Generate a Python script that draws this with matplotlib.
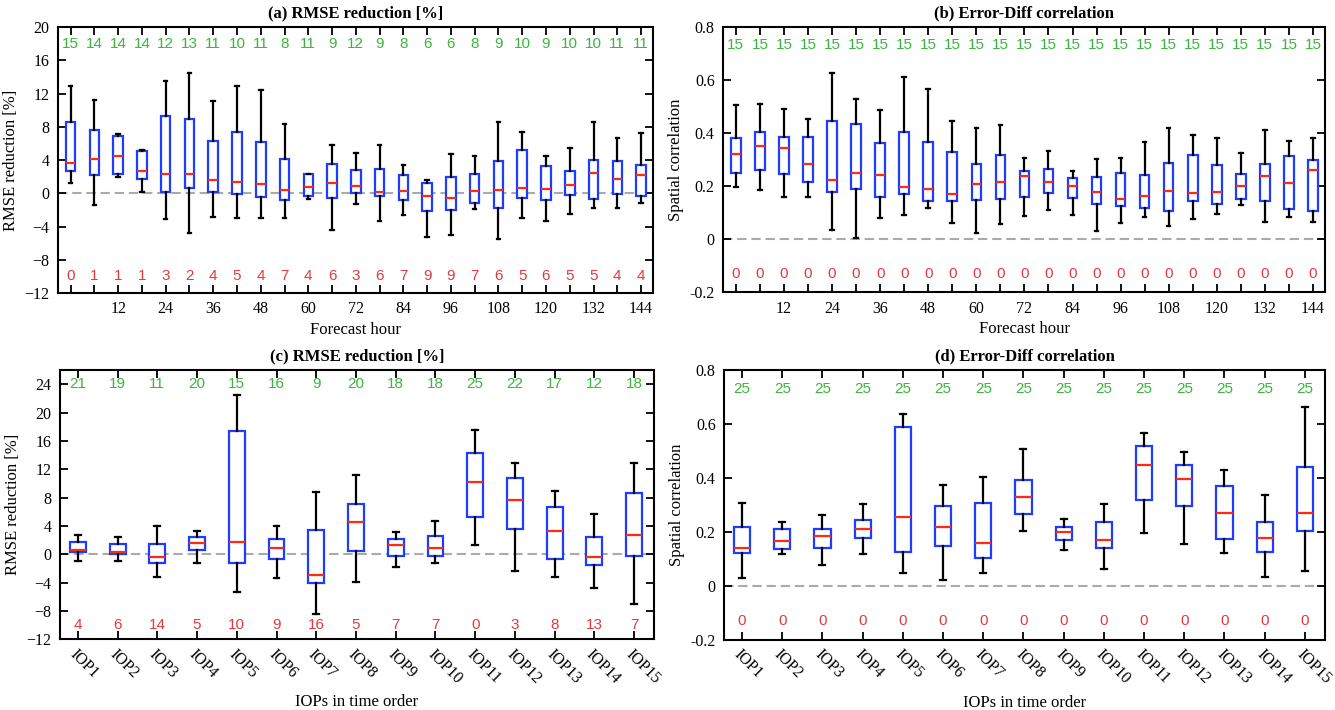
import numpy as np
import matplotlib.pyplot as plt

plt.rcParams['font.family'] = ['Liberation Serif', 'DejaVu Serif']

hours = [0, 6, 12, 18, 24, 30, 36, 42, 48, 54, 60, 66, 72, 78, 84, 90, 96, 102, 108, 114, 120, 126, 132, 138, 144]
iops = ["IOP1", "IOP2", "IOP3", "IOP4", "IOP5", "IOP6", "IOP7", "IOP8", "IOP9", "IOP10",
        "IOP11", "IOP12", "IOP13", "IOP14", "IOP15"]

## (a) RMSE reduction by forecast hour
a_whi = [12.87, 11.26, 7.16, 5.23, 13.47, 14.43, 11.06, 12.9, 12.42, 8.32, 2.37, 5.75, 4.87,
         5.75, 3.42, 1.57, 4.78, 4.54, 8.6, 7.36, 4.5, 5.39, 8.52, 6.71, 7.24]
a_q3 = [8.56, 7.64, 6.84, 5.03, 9.33, 8.93, 6.35, 7.4, 6.19, 4.18, 2.29, 3.58, 2.81,
        2.98, 2.21, 1.25, 1.93, 2.29, 3.94, 5.19, 3.34, 2.73, 3.98, 3.94, 3.46]
a_med = [3.70, 4.10, 4.46, 2.69, 2.29, 2.37, 1.57, 1.41, 1.13, 0.40, 0.8, 1.25, 0.84,
         0.12, 0.32, -0.28, -0.6, 0.24, 0.4, 0.68, 0.52, 0.97, 2.45, 1.73, 2.21]
a_q1 = [2.73, 2.25, 2.37, 1.73, 0.16, 0.64, 0.2, -0.04, -0.48, -0.8, -0.32, -0.56, 0.08,
        -0.32, -0.8, -2.13, -1.97, -1.17, -1.81, -0.6, -0.84, -0.24, -0.72, -0.12, -0.36]
a_wlo = [1.29, -1.41, 2.01, 0.16, -3.14, -4.83, -2.9, -2.94, -2.94, -3.02, -0.68, -4.38, -1.29,
         -3.3, -2.57, -5.31, -5.07, -1.85, -5.55, -2.98, -3.34, -2.53, -1.81, -1.73, -1.21]
a_pos = [15, 14, 14, 14, 12, 13, 11, 10, 11, 8, 11, 9, 12, 9, 8, 6, 6, 8, 9, 10, 9, 10, 10, 11, 11]
a_neg = [0, 1, 1, 1, 3, 2, 4, 5, 4, 7, 4, 6, 3, 6, 7, 9, 9, 7, 6, 5, 6, 5, 5, 4, 4]

## (b) error-diff correlation by forecast hour
b_whi = [0.504, 0.510, 0.49, 0.454, 0.627, 0.529, 0.485, 0.612, 0.564, 0.444, 0.417, 0.43, 0.307,
         0.332, 0.258, 0.301, 0.307, 0.365, 0.419, 0.393, 0.38, 0.323, 0.41, 0.371, 0.381]
b_q3 = [0.380, 0.402, 0.386, 0.385, 0.446, 0.434, 0.362, 0.404, 0.367, 0.33, 0.282, 0.317, 0.258,
        0.264, 0.232, 0.233, 0.248, 0.243, 0.287, 0.317, 0.281, 0.244, 0.283, 0.315, 0.298]
b_med = [0.321, 0.351, 0.342, 0.283, 0.222, 0.25, 0.243, 0.195, 0.189, 0.171, 0.207, 0.217, 0.239,
         0.215, 0.199, 0.178, 0.151, 0.164, 0.183, 0.174, 0.178, 0.201, 0.237, 0.212, 0.259]
b_q1 = [0.248, 0.262, 0.247, 0.217, 0.179, 0.189, 0.159, 0.171, 0.143, 0.144, 0.148, 0.153, 0.158,
        0.175, 0.155, 0.131, 0.124, 0.117, 0.107, 0.145, 0.133, 0.15, 0.143, 0.115, 0.105]
b_wlo = [0.196, 0.186, 0.157, 0.157, 0.036, 0.005, 0.08, 0.091, 0.117, 0.062, 0.022, 0.059, 0.087,
         0.108, 0.092, 0.032, 0.06, 0.082, 0.048, 0.077, 0.094, 0.13, 0.065, 0.084, 0.064]
b_pos = [15, 15, 15, 15, 15, 15, 15, 15, 15, 15, 15, 15, 15, 15, 15, 15, 15, 15, 15, 15, 15, 15, 15, 15, 15]
b_neg = [0, 0, 0, 0, 0, 0, 0, 0, 0, 0, 0, 0, 0, 0, 0, 0, 0, 0, 0, 0, 0, 0, 0, 0, 0]

## (c) RMSE reduction by IOP
c_whi = [2.68, 2.49, 4.05, 3.34, 22.49, 3.95, 8.8, 11.2, 3.11, 4.75, 17.5, 12.89, 8.99, 5.74, 12.89]
c_q3 = [1.69, 1.46, 1.46, 2.4, 17.41, 2.21, 3.39, 7.06, 2.12, 2.54, 14.31, 10.73, 6.73, 2.4, 8.61]
c_med = [0.61, 0.33, -0.33, 1.55, 1.69, 0.89, -2.92, 4.52, 1.27, 0.85, 10.26, 7.67, 3.34, -0.42, 2.68]
c_q1 = [0.28, 0.05, -1.22, 0.56, -1.18, -0.61, -4.09, 0.52, -0.28, -0.24, 5.22, 3.53, -0.61, -1.46, -0.19]
c_wlo = [-0.99, -0.99, -3.15, -1.27, -5.32, -3.39, -8.38, -3.95, -1.79, -1.18, 1.27, -2.4, -3.2, -4.8, -7.06]
c_pos = [21, 19, 11, 20, 15, 16, 9, 20, 18, 18, 25, 22, 17, 12, 18]
c_neg = [4, 6, 14, 5, 10, 9, 16, 5, 7, 7, 0, 3, 8, 13, 7]

## (d) error-diff correlation by IOP
d_whi = [0.307, 0.237, 0.264, 0.306, 0.638, 0.374, 0.406, 0.51, 0.25, 0.305, 0.567, 0.496, 0.429, 0.338, 0.666]
d_q3 = [0.22, 0.213, 0.211, 0.246, 0.592, 0.298, 0.308, 0.392, 0.22, 0.237, 0.521, 0.451, 0.371, 0.238, 0.441]
d_med = [0.143, 0.168, 0.184, 0.21, 0.258, 0.221, 0.16, 0.332, 0.202, 0.171, 0.45, 0.397, 0.273, 0.18, 0.273]
d_q1 = [0.124, 0.136, 0.143, 0.177, 0.127, 0.148, 0.104, 0.268, 0.171, 0.143, 0.319, 0.298, 0.175, 0.127, 0.206]
d_wlo = [0.031, 0.118, 0.078, 0.119, 0.05, 0.023, 0.048, 0.206, 0.133, 0.064, 0.197, 0.155, 0.122, 0.034, 0.057]
d_pos = [25, 25, 25, 25, 25, 25, 25, 25, 25, 25, 25, 25, 25, 25, 25]
d_neg = [0, 0, 0, 0, 0, 0, 0, 0, 0, 0, 0, 0, 0, 0, 0]

BLUE = '#1d3cff'
MRED = '#ff2a10'
GREEN = '#3bb53b'
NRED = '#e5383b'


def draw_panel(ax, pos, wlo, q1, med, q3, whi, npos, nneg, width, capw,
               ylim, yticks, ypos, yneg):
    stats = []
    for i in range(len(pos)):
        stats.append(dict(whislo=wlo[i], q1=q1[i], med=med[i], q3=q3[i], whishi=whi[i], fliers=[]))
    ax.axhline(0, color='#aaaaaa', lw=1.5, dashes=(4.5, 2.3), zorder=1)
    ax.bxp(stats, positions=pos, widths=width, capwidths=capw, showfliers=False,
           patch_artist=True, manage_ticks=False,
           boxprops=dict(facecolor='white', edgecolor=BLUE, linewidth=1.6),
           medianprops=dict(color=MRED, linewidth=1.6),
           whiskerprops=dict(color='black', linewidth=1.6),
           capprops=dict(color='black', linewidth=1.6))
    # counts of positive / negative cases
    for x, n in zip(pos, npos):
        ax.text(x, ypos, str(n), color=GREEN, ha='center', va='center',
                fontsize=11, family=['Liberation Sans', 'DejaVu Sans'])
    for x, n in zip(pos, nneg):
        ax.text(x, yneg, str(n), color=NRED, ha='center', va='center',
                fontsize=11, family=['Liberation Sans', 'DejaVu Sans'])
    ax.set_ylim(ylim)
    ax.set_yticks(yticks)
    ax.tick_params(direction='in', length=6, width=1.3, top=True, right=True,
                   labelsize=11.5, pad=6)
    for s in ax.spines.values():
        s.set_linewidth(1.5)


fig = plt.figure(figsize=(13.35, 7.1), dpi=100)
ax_a = fig.add_axes([0.0434, 0.5873, 0.4457, 0.3746])
ax_b = fig.add_axes([0.5416, 0.5883, 0.4509, 0.3741])
ax_c = fig.add_axes([0.0449, 0.0993, 0.4450, 0.3796])
ax_d = fig.add_axes([0.5423, 0.0986, 0.4502, 0.3796])

draw_panel(ax_a, hours, a_wlo, a_q1, a_med, a_q3, a_whi, a_pos, a_neg, 2.4, 0.9,
           (-12, 20), np.arange(-12, 21, 4), 18, -10)
draw_panel(ax_b, hours, b_wlo, b_q1, b_med, b_q3, b_whi, b_pos, b_neg, 2.4, 0.9,
           (-0.2, 0.8), [-0.2, 0, 0.2, 0.4, 0.6, 0.8], 0.73, -0.13)
ipos = list(range(1, len(iops) + 1))
draw_panel(ax_c, ipos, c_wlo, c_q1, c_med, c_q3, c_whi, c_pos, c_neg, 0.4, 0.15,
           (-12, 26), np.arange(-12, 25, 4), 24, -10)
draw_panel(ax_d, ipos, d_wlo, d_q1, d_med, d_q3, d_whi, d_pos, d_neg, 0.4, 0.15,
           (-0.2, 0.8), [-0.2, 0, 0.2, 0.4, 0.6, 0.8], 0.73, -0.13)

ax_b.set_yticklabels(['-0.2', '0', '0.2', '0.4', '0.6', '0.8'])
ax_d.set_yticklabels(['-0.2', '0', '0.2', '0.4', '0.6', '0.8'])

for ax in (ax_a, ax_b):
    ax.set_xlim(-3.2, 147)
    ax.set_xticks(hours)
    ax.set_xticklabels([str(h) if h % 12 == 0 and h > 0 else '' for h in hours])
    ax.set_xlabel('Forecast hour', fontsize=12, labelpad=3)

for ax in (ax_c, ax_d):
    ax.set_xlim(0.55, 15.5)
    ax.set_xticks(ipos)
    ax.set_xticklabels(iops, rotation=-45, ha='left', va='top', rotation_mode='anchor')
    ax.tick_params(axis='x', pad=5)
    ax.set_xlabel('IOPs in time order', fontsize=12, labelpad=5)

ax_a.set_ylabel('RMSE reduction [%]', fontsize=12, labelpad=4)
ax_c.set_ylabel('RMSE reduction [%]', fontsize=12, labelpad=4)
ax_b.set_ylabel('Spatial correlation', fontsize=12, labelpad=4)
ax_d.set_ylabel('Spatial correlation', fontsize=12, labelpad=4)

ax_a.set_title('(a) RMSE reduction [%]', fontsize=12, fontweight='bold', pad=7)
ax_b.set_title('(b) Error-Diff correlation', fontsize=12, fontweight='bold', pad=7)
ax_c.set_title('(c) RMSE reduction [%]', fontsize=12, fontweight='bold', pad=7)
ax_d.set_title('(d) Error-Diff correlation', fontsize=12, fontweight='bold', pad=7)

plt.savefig('out.png', dpi=100)
